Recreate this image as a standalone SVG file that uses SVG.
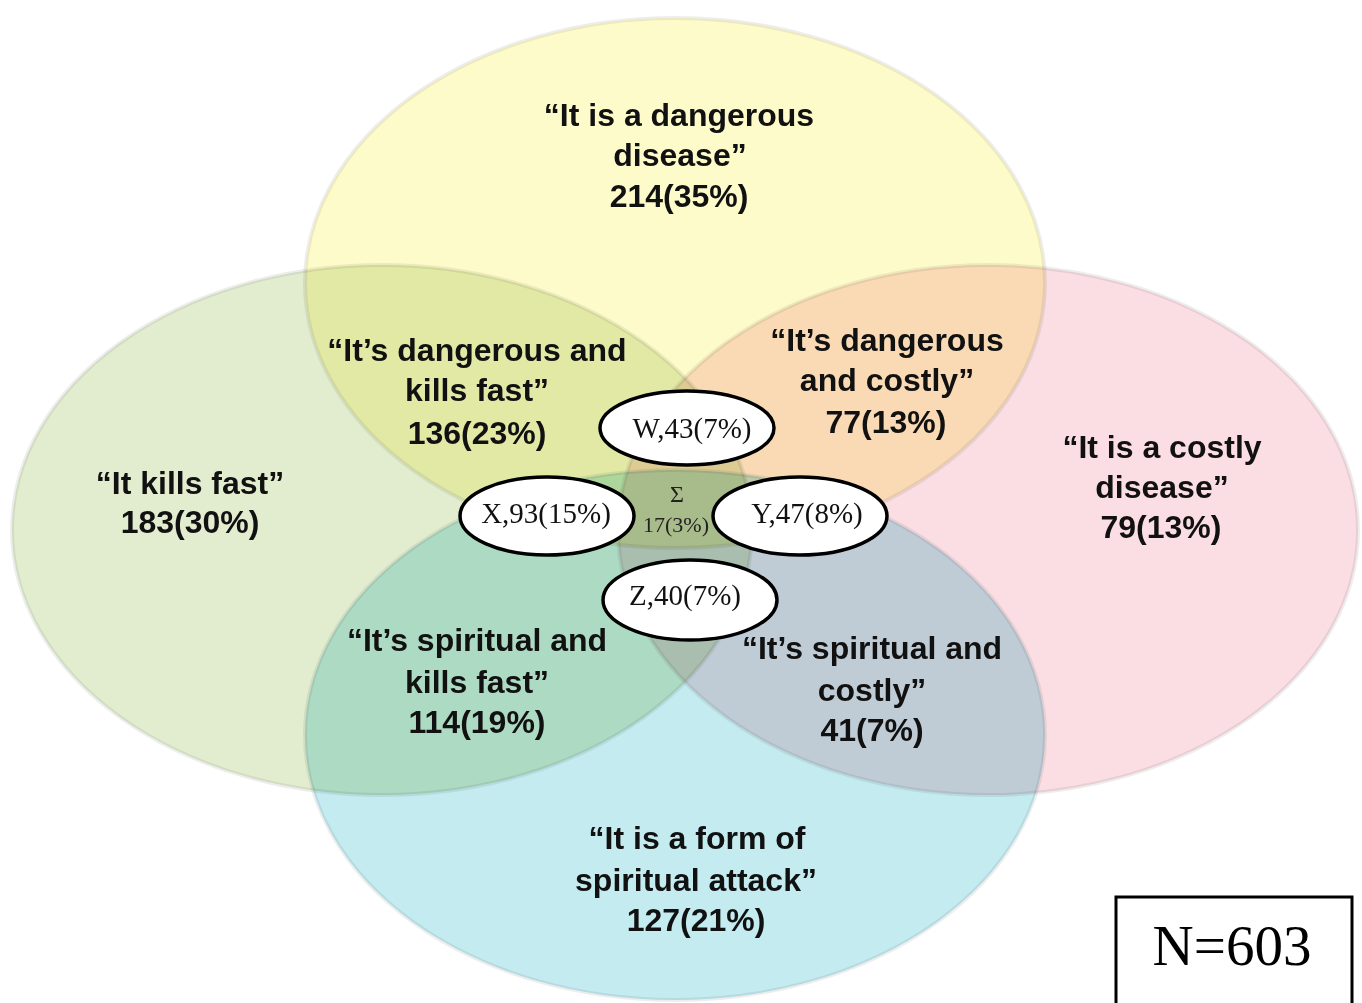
<svg xmlns="http://www.w3.org/2000/svg" width="1362" height="1003" viewBox="0 0 1362 1003">
  <style>
    .set { mix-blend-mode: multiply; stroke: #000; stroke-opacity: 0.07; stroke-width: 4; }
    .lbl { font-family: "Liberation Sans", Arial, sans-serif; font-weight: bold; font-size: 32px; fill: #111; text-anchor: middle; }
    .sub { fill: #fff; stroke: #000; stroke-width: 3.5; }
    .subt { font-family: "Liberation Serif", "Times New Roman", serif; font-size: 29px; fill: #111; text-anchor: middle; }
    .mid { font-family: "Liberation Serif", "Times New Roman", serif; fill: #222; text-anchor: middle; }
  </style>
  <rect x="0" y="0" width="1362" height="1003" fill="#fff"/>
  <g id="sets" style="isolation:isolate">
    <ellipse id="set-dangerous" class="set" cx="675" cy="283" rx="370" ry="265" fill="#FEFBCB"/>
    <ellipse id="set-kills-fast" class="set" cx="382" cy="530" rx="370" ry="265" fill="#E2EDD0"/>
    <ellipse id="set-costly" class="set" cx="988" cy="530" rx="370" ry="265" fill="#FADEE3"/>
    <ellipse id="set-spiritual" class="set" cx="675" cy="735" rx="370" ry="265" fill="#C3EBF0"/>
  </g>
  <g id="connectors"/>
  <g id="label-dangerous" class="lbl">
    <text x="679" y="126">“It is a dangerous</text>
    <text x="680" y="166">disease”</text>
    <text x="679" y="207">214(35%)</text>
  </g>
  <g id="label-dangerous-kills" class="lbl">
    <text x="477" y="361">“It’s dangerous and</text>
    <text x="477" y="401">kills fast”</text>
    <text x="477" y="444">136(23%)</text>
  </g>
  <g id="label-dangerous-costly" class="lbl">
    <text x="887" y="351">“It’s dangerous</text>
    <text x="887" y="391">and costly”</text>
    <text x="886" y="433">77(13%)</text>
  </g>
  <g id="label-kills-fast" class="lbl">
    <text x="190" y="494">“It kills fast”</text>
    <text x="190" y="533">183(30%)</text>
  </g>
  <g id="label-costly" class="lbl">
    <text x="1162" y="458">“It is a costly</text>
    <text x="1162" y="498">disease”</text>
    <text x="1161" y="538">79(13%)</text>
  </g>
  <g id="label-spiritual-kills" class="lbl">
    <text x="477" y="651">“It’s spiritual and</text>
    <text x="477" y="693">kills fast”</text>
    <text x="477" y="733">114(19%)</text>
  </g>
  <g id="label-spiritual-costly" class="lbl">
    <text x="872" y="659">“It’s spiritual and</text>
    <text x="872" y="701">costly”</text>
    <text x="872" y="741">41(7%)</text>
  </g>
  <g id="label-spiritual" class="lbl">
    <text x="697" y="849">“It is a form of</text>
    <text x="696" y="891">spiritual attack”</text>
    <text x="696" y="931">127(21%)</text>
  </g>
  <g id="node-W">
    <ellipse class="sub" cx="687" cy="428" rx="87" ry="37"/>
    <text class="subt" x="692" y="438">W,43(7%)</text>
  </g>
  <g id="node-X">
    <ellipse class="sub" cx="547" cy="516" rx="87" ry="39"/>
    <text class="subt" x="546" y="523">X,93(15%)</text>
  </g>
  <g id="node-Y">
    <ellipse class="sub" cx="800" cy="516" rx="87" ry="39"/>
    <text class="subt" x="807" y="523">Y,47(8%)</text>
  </g>
  <g id="node-Z">
    <ellipse class="sub" cx="690" cy="600" rx="87" ry="40"/>
    <text class="subt" x="685" y="605">Z,40(7%)</text>
  </g>
  <g id="node-all">
    <text class="mid" x="677" y="502" font-size="24">Σ</text>
    <text class="mid" x="676" y="532" font-size="22">17(3%)</text>
  </g>
  <g id="node-total">
    <rect x="1116" y="897" width="236" height="120" fill="#fff" stroke="#000" stroke-width="3"/>
    <text x="1232" y="965" font-family="Liberation Serif, 'Times New Roman', serif" font-size="57" fill="#000" text-anchor="middle">N=603</text>
  </g>
</svg>
